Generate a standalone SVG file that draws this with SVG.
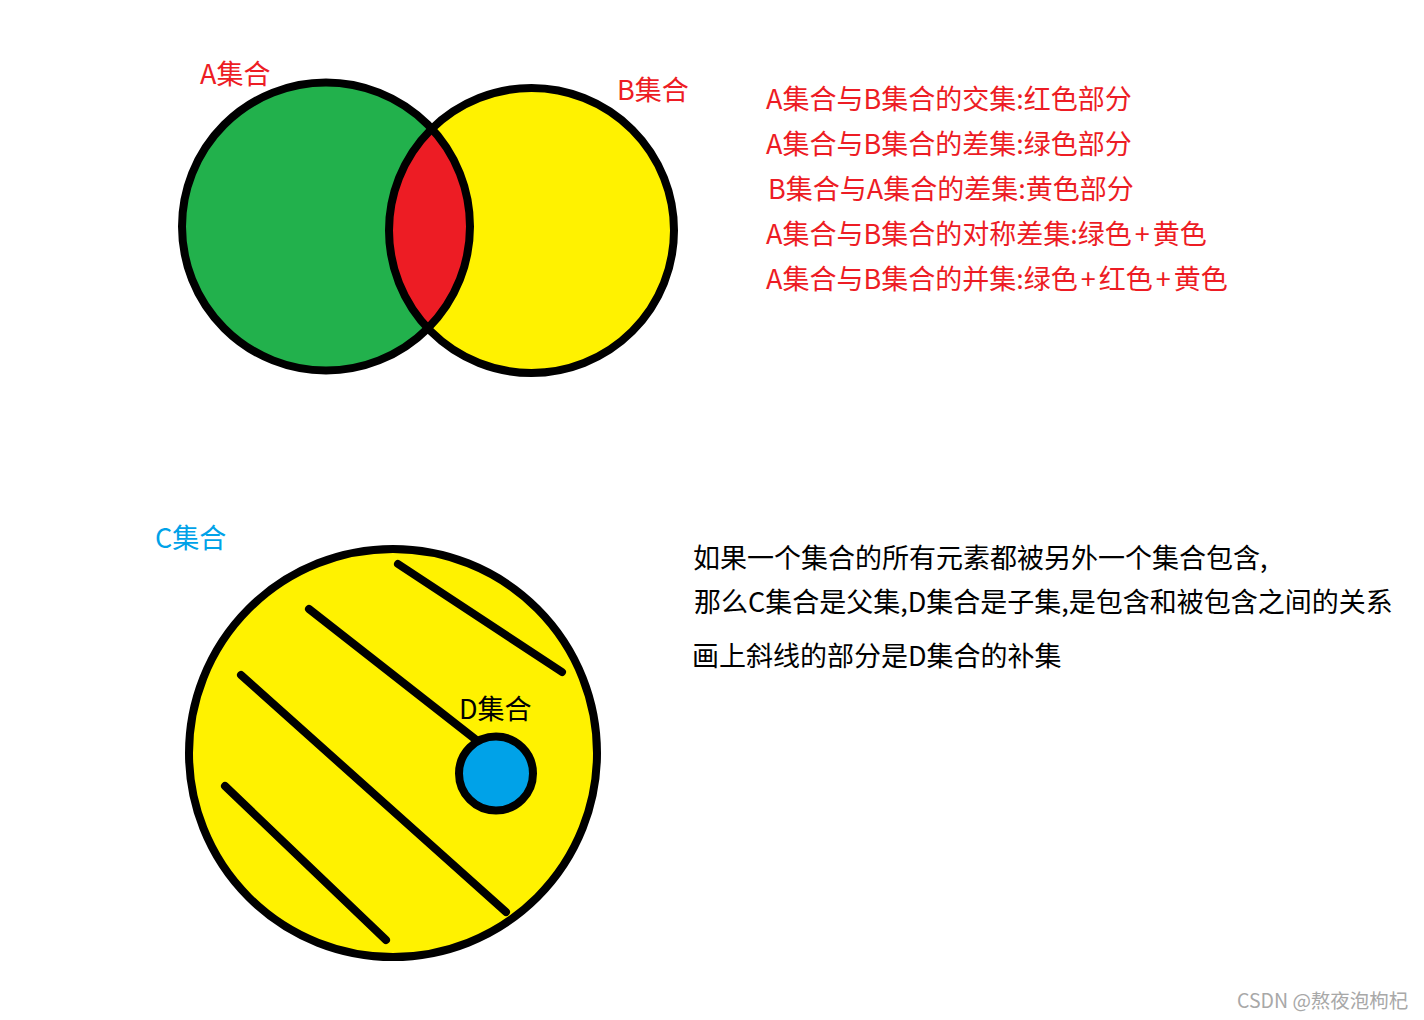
<svg xmlns="http://www.w3.org/2000/svg" width="1424" height="1020" viewBox="0 0 1424 1020">
  <style>
    text { font-family: "Noto Sans CJK SC", "Microsoft YaHei", sans-serif; font-size: 27px; }
    .red { fill: #ED1C24; }
    .blk { fill: #000000; }
    .blue { fill: #00A2E8; }
    .ring { fill: none; stroke: #000; stroke-width: 8; }
    .hatch { stroke: #000; stroke-width: 8; stroke-linecap: round; fill: none; }
    .wm { fill: #a8a8a8; font-size: 19.5px; }
  </style>
  <defs>
    <clipPath id="clipA">
      <circle cx="326" cy="226.5" r="144"/>
    </clipPath>
  </defs>
  <rect width="1424" height="1020" fill="#ffffff"/>

  <g id="setA">
    <circle cx="326" cy="226.5" r="144" fill="#22B14C"/>
  </g>
  <g id="setB">
    <circle cx="531.5" cy="230.5" r="142.5" fill="#FFF200"/>
  </g>
  <g id="intersection">
    <circle cx="531.5" cy="230.5" r="142.5" fill="#ED1C24" clip-path="url(#clipA)"/>
  </g>
  <g id="rings">
    <circle class="ring" cx="326" cy="226.5" r="144"/>
    <circle class="ring" cx="531.5" cy="230.5" r="142.5"/>
  </g>
  <text class="red" x="200" y="84">A集合</text>
  <text class="red" x="617" y="100">B集合</text>

  <g id="legend">
    <text class="red" x="766" y="109">A集合与B集合的交集:红色部分</text>
    <text class="red" x="766" y="154">A集合与B集合的差集:绿色部分</text>
    <text class="red" x="768" y="199">B集合与A集合的差集:黄色部分</text>
    <text class="red" x="766" y="244">A集合与B集合的对称差集:绿色<tspan dx="3">+</tspan><tspan dx="3">黄色</tspan></text>
    <text class="red" x="766" y="289">A集合与B集合的并集:绿色<tspan dx="3">+</tspan><tspan dx="3">红色</tspan><tspan dx="3">+</tspan><tspan dx="3">黄色</tspan></text>
  </g>

  <g id="setC">
    <circle cx="393" cy="753" r="204" fill="#FFF200" stroke="#000" stroke-width="8"/>
  </g>
  <text class="blue" x="155" y="548">C集合</text>

  <g id="hatching">
    <line class="hatch" x1="398" y1="564" x2="562" y2="672"/>
    <line class="hatch" x1="309" y1="609" x2="475" y2="739"/>
    <line class="hatch" x1="241" y1="675" x2="506" y2="912"/>
    <line class="hatch" x1="225" y1="786" x2="386" y2="940"/>
  </g>

  <g id="setD">
    <circle cx="496" cy="773.5" r="37" fill="#00A2E8" stroke="#000" stroke-width="8"/>
  </g>
  <text class="blk" x="459" y="719">D集合</text>

  <g id="notes">
    <text class="blk" x="693" y="568">如果一个集合的所有元素都被另外一个集合包含,</text>
    <text class="blk" x="694" y="612">那么C集合是父集,D集合是子集,是包含和被包含之间的关系</text>
    <text class="blk" x="692" y="666">画上斜线的部分是D集合的补集</text>
  </g>

  <text class="wm" x="1237" y="1008">CSDN @熬夜泡枸杞</text>
</svg>
